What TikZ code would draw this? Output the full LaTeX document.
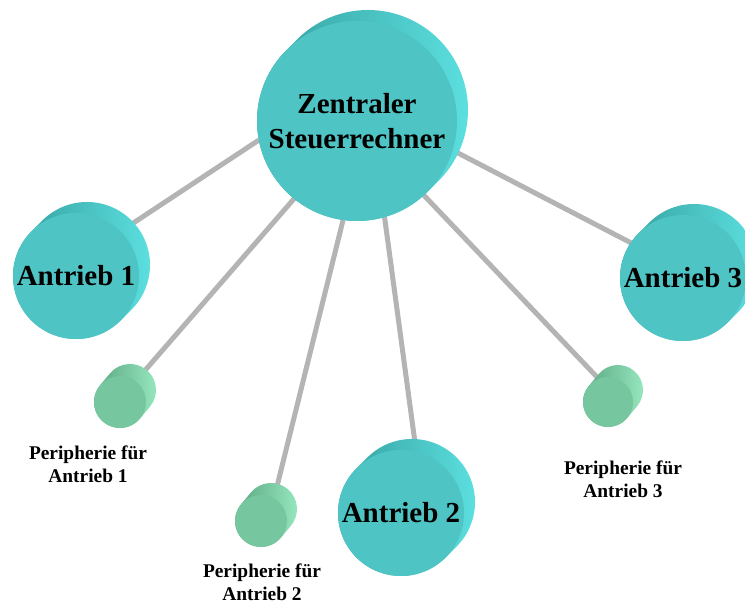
\documentclass[tikz,border=0pt]{standalone}
\usepackage{fontspec}
\setmainfont{Liberation Serif}
\usetikzlibrary{arrows,calc}
\definecolor{cyl_front}{RGB}{78, 196, 196}
\definecolor{cyl_dark}{RGB}{50, 156, 156}
\definecolor{cyl_light}{RGB}{94, 226, 226}
\definecolor{per_front}{RGB}{118, 198, 160}
\definecolor{per_dark}{RGB}{86, 164, 126}
\definecolor{per_light}{RGB}{152, 232, 192}
\definecolor{wire_gray}{RGB}{180, 180, 180}
\pgfdeclarelayer{wires}
\pgfdeclarelayer{sides}
\pgfsetlayers{wires,sides,main}
\tikzstyle{cn}=[circle,fill=cyl_front,inner sep=0pt,outer sep=0pt,
  minimum size=126pt,align=center,font=\bfseries\fontsize{29}{35}\selectfont]
\tikzstyle{pn}=[circle,fill=per_front,inner sep=0pt,outer sep=0pt,
  minimum size=52pt]
\tikzstyle{cs}=[left color=cyl_dark,right color=cyl_light]
\tikzstyle{ps}=[left color=per_dark,right color=per_light]
\tikzstyle{lbl}=[align=center,font=\bfseries\fontsize{19.4}{23}\selectfont]
\tikzstyle{wire}=[draw=wire_gray,line width=5pt]

\begin{document}
\begin{tikzpicture}[x=1pt, y=1pt]
            \useasboundingbox (0, 0) rectangle (745, 604);
            \node [style=cn, minimum size=200pt] (0) at (357, 483) {Zentraler\\Steuerrechner};
            \node [style=cn] (1) at (76, 328) {Antrieb 1};
            \node [style=cn] (2) at (401, 91) {Antrieb 2};
            \node [style=cn] (3) at (683, 326) {Antrieb 3};
            \node [style=pn] (4) at (120, 202) {};
            \node [style=pn] (5) at (261, 83) {};
            \node [style=pn, minimum size=50pt] (6) at (608, 202) {};
            \node [style=lbl] (7) at (88, 140) {Peripherie für\\Antrieb 1};
            \node [style=lbl] (8) at (262, 22) {Peripherie für\\Antrieb 2};
            \node [style=lbl] (9) at (623, 125) {Peripherie für\\Antrieb 3};
            \begin{pgfonlayer}{sides}
            \shade [style=cs] (0.135) arc (135:315:100) -- ++(11, 11) arc (315:495:100) -- cycle;
            \shade [style=cs] (1.135) arc (135:315:63) -- ++(11, 11) arc (315:495:63) -- cycle;
            \shade [style=cs] (2.135) arc (135:315:63) -- ++(11, 11) arc (315:495:63) -- cycle;
            \shade [style=cs] (3.135) arc (135:315:63) -- ++(11, 11) arc (315:495:63) -- cycle;
            \shade [style=ps] (4.140) arc (140:320:26) -- ++(10, 12) arc (320:500:26) -- cycle;
            \shade [style=ps] (5.140) arc (140:320:26) -- ++(10, 12) arc (320:500:26) -- cycle;
            \shade [style=ps] (6.140) arc (140:320:25) -- ++(10, 12) arc (320:500:25) -- cycle;
            \end{pgfonlayer}
            \begin{pgfonlayer}{wires}
            \draw [style=wire] (0.191) to (1.45);
            \draw [style=wire] (0.231) to (4.53);
            \draw [style=wire] (0.262) to (5.60);
            \draw [style=wire] (0.286) to (2.76);
            \draw [style=wire] (0.312) to (6.112);
            \draw [style=wire] (0.343) to (3.146);
            \end{pgfonlayer}
    \end{tikzpicture}
\end{document}
